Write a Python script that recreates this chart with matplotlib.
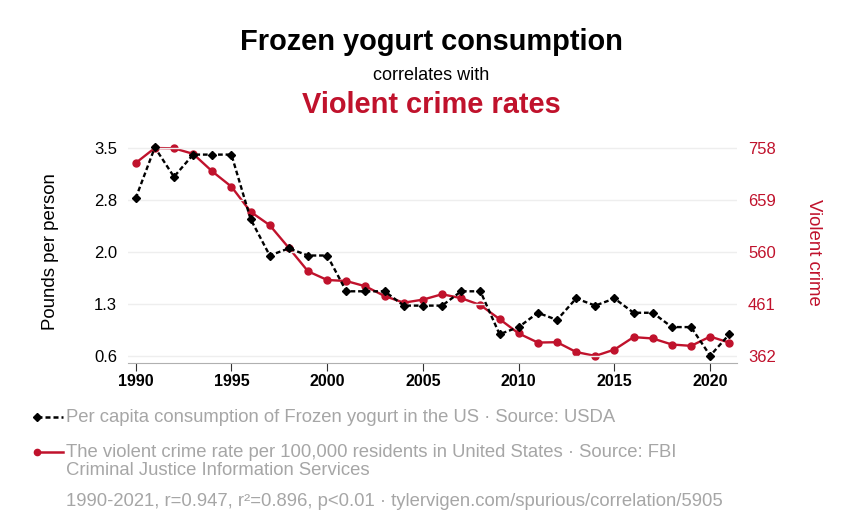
import numpy as np
import matplotlib.pyplot as plt

plt.rcParams['font.family'] = ['Liberation Sans', 'DejaVu Sans']

years = list(range(1990, 2022))
yogurt = [2.80, 3.51, 3.10, 3.41, 3.41, 3.41, 2.51, 2.00, 2.10, 2.00, 2.00,
          1.50, 1.50, 1.50, 1.30, 1.30, 1.30, 1.50, 1.50, 0.90, 1.00, 1.20,
          1.10, 1.40, 1.30, 1.40, 1.20, 1.20, 1.00, 1.00, 0.60, 0.90]
crime = [729.6, 758.2, 757.7, 747.1, 713.6, 684.5, 636.6, 611.0, 567.6, 523.0,
         506.5, 504.5, 494.4, 475.8, 463.2, 469.0, 479.3, 471.8, 458.6, 431.9,
         404.5, 387.1, 387.8, 369.1, 361.6, 373.7, 397.5, 394.9, 383.4, 380.8,
         398.5, 387.0]

left_ticks = [0.6, 1.325, 2.05, 2.775, 3.5]
left_labels = ['0.6', '1.3', '2.0', '2.8', '3.5']
right_ticks = [362, 461, 560, 659, 758]
xticks = [1990, 1995, 2000, 2005, 2010, 2015, 2020]

RED = '#c0122c'
GRAY = '#a6a6a6'

fig = plt.figure(figsize=(8.62, 5.12), dpi=100)
ax = fig.add_axes([0.1485, 0.291, 0.7065, 0.4336])
ax2 = ax.twinx()

ax.plot(years, yogurt, color='black', ls=(0, (2, 1.2)), lw=1.7, marker='D',
        ms=4.5, zorder=3)
ax2.plot(years, crime, color=RED, lw=1.7, marker='o', ms=5, zorder=3)
ax.set_zorder(ax2.get_zorder() + 1)
ax.patch.set_visible(False)

ax.set_xlim(1989.6, 2021.4)
ax.set_ylim(0.498, 3.6)
ax2.set_ylim(348.1, 771.6)

ax.set_yticks(left_ticks, left_labels)
ax2.set_yticks(right_ticks, [str(t) for t in right_ticks])
ax.set_xticks(xticks, [str(t) for t in xticks])

for a in (ax, ax2):
    for s in a.spines.values():
        s.set_visible(False)
ax.spines['bottom'].set_visible(True)
ax.spines['bottom'].set_color('#b0b0b0')

ax.grid(axis='y', color='#eeeeee', lw=1)
ax.tick_params(axis='y', length=0, labelsize=12, pad=8, colors='black')
ax2.tick_params(axis='y', length=0, labelsize=12, pad=8, labelcolor=RED)
ax.tick_params(axis='x', length=6, color='#333333', labelsize=11.5, pad=2)
for lab in ax.get_xticklabels():
    lab.set_fontweight('bold')

ax.set_ylabel('Pounds per person', fontsize=13.4, labelpad=25)
ax2.set_ylabel('Violent crime', fontsize=13.4, color=RED, rotation=270,
               labelpad=33)

fig.text(0.5, 0.917, 'Frozen yogurt consumption', ha='center', va='center',
         fontsize=20.9, fontweight='bold')
fig.text(0.5, 0.853, 'correlates with', ha='center', va='center', fontsize=13)
fig.text(0.5, 0.795, 'Violent crime rates', ha='center', va='center',
         fontsize=20.9, fontweight='bold', color=RED)

# legend-like footer
lx0, lx1 = 0.043, 0.073
fig.add_artist(plt.Line2D([lx0, lx1], [0.185, 0.185], color='black',
                          ls=(0, (2, 1.2)), lw=1.8, marker='D', ms=4,
                          markevery=[0]))
fig.add_artist(plt.Line2D([lx0, lx1], [0.117, 0.117], color=RED, lw=1.8,
                          marker='o', ms=4.5, markevery=[0]))
fig.text(0.077, 0.185, 'Per capita consumption of Frozen yogurt in the US · Source: USDA',
         va='center', fontsize=13.3, color=GRAY)
fig.text(0.077, 0.117, 'The violent crime rate per 100,000 residents in United States · Source: FBI',
         va='center', fontsize=13.3, color=GRAY)
fig.text(0.077, 0.081, 'Criminal Justice Information Services',
         va='center', fontsize=13.3, color=GRAY)
fig.text(0.077, 0.020, '1990-2021, r=0.947, r²=0.896, p<0.01 · tylervigen.com/spurious/correlation/5905',
         va='center', fontsize=13.3, color=GRAY)

fig.savefig('out.png', dpi=100)
